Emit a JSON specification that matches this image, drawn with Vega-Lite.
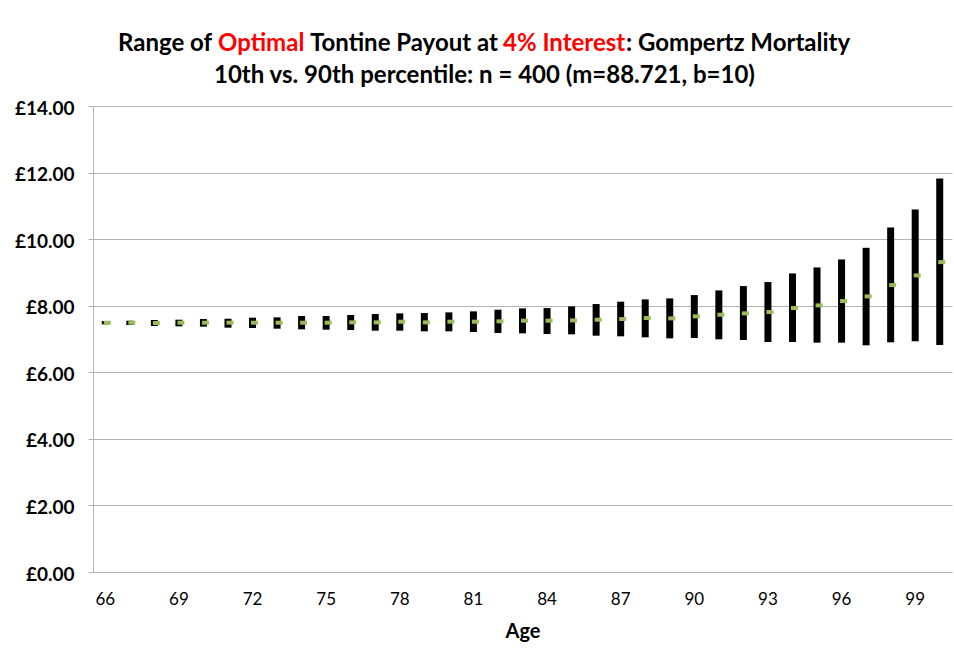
{
  "$schema": "https://vega.github.io/schema/vega-lite/v6.json",
  "padding": {"top": 32, "left": 14, "right": 2, "bottom": 4},
  "background": "white",
  "config": {
    "font": "Lato",
    "view": {"stroke": null},
    "title": {"font": "Lato", "fontSize": 24, "fontWeight": "bold", "color": "#000000"}
  },
  "center": true,
  "spacing": -12,
  "vconcat": [
    {
      "spacing": 0,
      "hconcat": [
        {
          "spacing": 5,
          "hconcat": [
            {"width": 0, "height": 0, "data": {"values": []}, "mark": {"type": "text"},
             "title": {"text": "Range of", "anchor": "start", "frame": "group", "offset": 0, "color": "#000000"}},
            {"width": 0, "height": 0, "data": {"values": []}, "mark": {"type": "text"},
             "title": {"text": "Optimal", "anchor": "start", "frame": "group", "offset": 0, "color": "#ff0000"}},
            {"width": 0, "height": 0, "data": {"values": []}, "mark": {"type": "text"},
             "title": {"text": "Tontine Payout at", "anchor": "start", "frame": "group", "offset": 0, "color": "#000000"}},
            {"width": 0, "height": 0, "data": {"values": []}, "mark": {"type": "text"},
             "title": {"text": "4% Interest", "anchor": "start", "frame": "group", "offset": 0, "color": "#ff0000"}}
          ]
        },
        {"width": 0, "height": 0, "data": {"values": []}, "mark": {"type": "text"},
         "title": {"text": ": Gompertz Mortality", "anchor": "start", "frame": "group", "offset": 0, "color": "#000000"}},
        {"width": 76, "height": 0, "data": {"values": []}, "mark": {"type": "text"}}
      ]
    },
    {
      "width": 859,
      "height": 466,
      "title": {"text": "10th vs. 90th percentile: n = 400 (m=88.721, b=10)", "offset": 11, "dx": -38},
      "data": {"values": [
        {"age": 66, "p10": 7.44, "p90": 7.54, "median": 7.49},
        {"age": 67, "p10": 7.42, "p90": 7.55, "median": 7.49},
        {"age": 68, "p10": 7.39, "p90": 7.57, "median": 7.48},
        {"age": 69, "p10": 7.38, "p90": 7.58, "median": 7.49},
        {"age": 70, "p10": 7.37, "p90": 7.60, "median": 7.49},
        {"age": 71, "p10": 7.34, "p90": 7.61, "median": 7.49},
        {"age": 72, "p10": 7.33, "p90": 7.64, "median": 7.49},
        {"age": 73, "p10": 7.31, "p90": 7.65, "median": 7.49},
        {"age": 74, "p10": 7.29, "p90": 7.69, "median": 7.49},
        {"age": 75, "p10": 7.28, "p90": 7.69, "median": 7.49},
        {"age": 76, "p10": 7.27, "p90": 7.72, "median": 7.50},
        {"age": 77, "p10": 7.25, "p90": 7.75, "median": 7.50},
        {"age": 78, "p10": 7.25, "p90": 7.77, "median": 7.52},
        {"age": 79, "p10": 7.23, "p90": 7.78, "median": 7.50},
        {"age": 80, "p10": 7.23, "p90": 7.80, "median": 7.52},
        {"age": 81, "p10": 7.21, "p90": 7.83, "median": 7.52},
        {"age": 82, "p10": 7.18, "p90": 7.88, "median": 7.53},
        {"age": 83, "p10": 7.17, "p90": 7.92, "median": 7.55},
        {"age": 84, "p10": 7.15, "p90": 7.93, "median": 7.55},
        {"age": 85, "p10": 7.14, "p90": 7.98, "median": 7.56},
        {"age": 86, "p10": 7.10, "p90": 8.05, "median": 7.58},
        {"age": 87, "p10": 7.08, "p90": 8.12, "median": 7.60},
        {"age": 88, "p10": 7.05, "p90": 8.19, "median": 7.63},
        {"age": 89, "p10": 7.02, "p90": 8.22, "median": 7.62},
        {"age": 90, "p10": 7.03, "p90": 8.32, "median": 7.68},
        {"age": 91, "p10": 6.99, "p90": 8.46, "median": 7.73},
        {"age": 92, "p10": 6.97, "p90": 8.59, "median": 7.77},
        {"age": 93, "p10": 6.91, "p90": 8.71, "median": 7.81},
        {"age": 94, "p10": 6.91, "p90": 8.97, "median": 7.93},
        {"age": 95, "p10": 6.89, "p90": 9.15, "median": 8.01},
        {"age": 96, "p10": 6.89, "p90": 9.39, "median": 8.14},
        {"age": 97, "p10": 6.81, "p90": 9.74, "median": 8.28},
        {"age": 98, "p10": 6.90, "p90": 10.35, "median": 8.62},
        {"age": 99, "p10": 6.93, "p90": 10.89, "median": 8.91},
        {"age": 100, "p10": 6.82, "p90": 11.82, "median": 9.31}
      ]},
      "encoding": {
        "x": {
          "field": "age", "type": "ordinal",
          "scale": {"paddingInner": 0, "paddingOuter": 0},
          "axis": {
            "values": [66, 69, 72, 75, 78, 81, 84, 87, 90, 93, 96, 99],
            "labelAngle": 0, "ticks": false, "grid": false,
            "domainColor": "#b3b3b3", "labelFont": "Lato", "labelFontSize": 17, "labelColor": "#000000",
            "labelPadding": 19, "title": "Age", "titleFont": "Lato", "titleFontSize": 20,
            "titleFontWeight": "bold", "titleColor": "#000000", "titlePadding": 14
          }
        }
      },
      "layer": [
        {
          "mark": {"type": "bar", "width": 7, "color": "#000000"},
          "encoding": {
            "y": {
              "field": "p90", "type": "quantitative",
              "scale": {"domain": [0, 14], "nice": false},
              "axis": {
                "title": null, "values": [0, 2, 4, 6, 8, 10, 12, 14],
                "labelExpr": "'£' + format(datum.value, '.2f')",
                "labelFont": "Lato", "labelFontSize": 19, "labelFontWeight": "bold", "labelColor": "#000000",
                "labelPadding": 14, "labelOffset": 2, "tickSize": 5, "tickColor": "#b3b3b3",
                "domainColor": "#b3b3b3", "gridColor": "#b3b3b3", "grid": true
              }
            },
            "y2": {"field": "p10"}
          }
        },
        {
          "mark": {"type": "tick", "color": "#9bbb59", "thickness": 4, "size": 7, "xOffset": 2, "opacity": 1},
          "encoding": {
            "y": {"field": "median", "type": "quantitative"}
          }
        }
      ]
    }
  ]
}
